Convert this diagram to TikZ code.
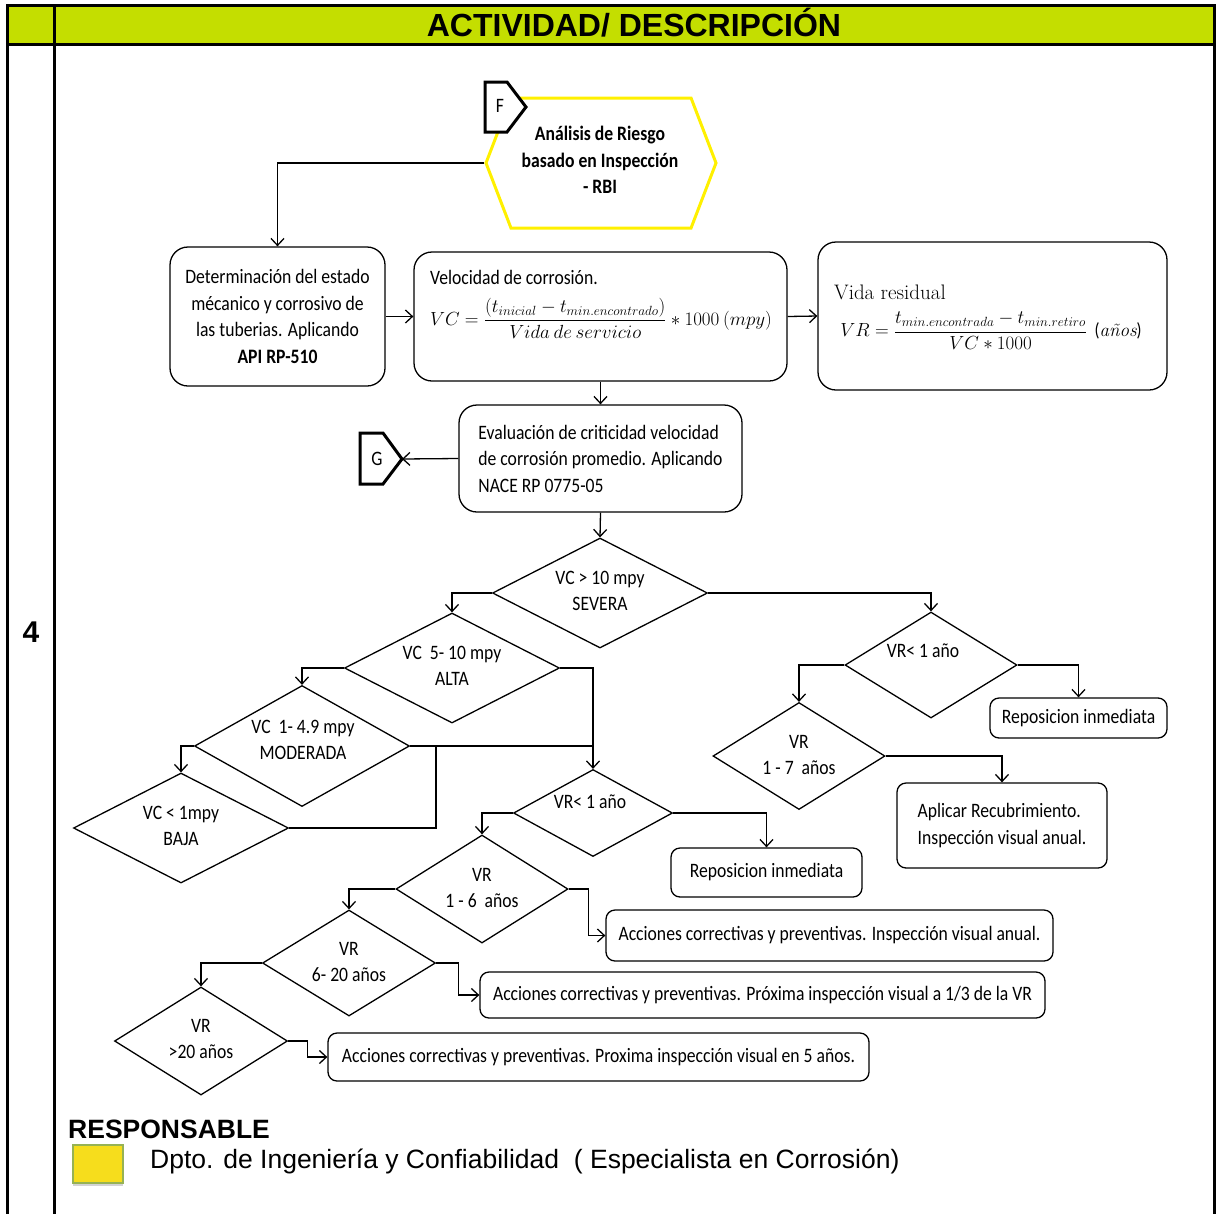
\RequirePackage{fix-cm}
\documentclass[tikz,border=0pt]{standalone}
\usepackage{fontspec}
\setmainfont{Carlito}[FakeStretch=0.86]
\newfontfamily\arial{Liberation Sans}
\newfontfamily\lmserif{Latin Modern Roman}
\usetikzlibrary{arrows.meta,shapes.geometric,shapes.symbols,calc,shadows}

\definecolor{headfill}{RGB}{196,222,0}
\definecolor{hexline}{RGB}{255,240,0}
\definecolor{sqfill}{RGB}{246,221,28}
\definecolor{sqline}{RGB}{150,178,84}

\tikzset{
  tabline/.style={line width=3pt},
  txt/.style={font=\fontsize{20.5}{26.5}\selectfont, inner sep=0pt},
  mth/.style={font=\fontsize{19}{24}\selectfont, inner sep=0pt},
  box/.style={draw, line width=1.3pt, rounded corners=18pt, inner sep=0pt,
              font=\fontsize{20.5}{26.5}\selectfont},
  sbox/.style={box, rounded corners=9pt},
  dia/.style={draw, diamond, aspect=2, line width=1.3pt, inner sep=0pt},
  conn/.style={line width=1.3pt},
  arr/.style={conn, -{Straight Barb[length=7pt,width=13pt,line width=1.3pt]}},
  tagline/.style={draw, line width=3pt, fill=white, line join=miter},
  tagtxt/.style={font=\fontsize{20.5}{24}\selectfont, inner sep=0pt}
}

\begin{document}
\begin{tikzpicture}[x=1pt, y=-1pt]
\useasboundingbox (0,0) rectangle (1217,1213);

% table frame and header row
\fill[headfill] (7,5) rectangle (1214,44);
\draw[tabline] (7,1216) -- (7,5) -- (1214,5) -- (1214,1216);
\draw[tabline] (7,44) -- (1214,44);
\draw[tabline] (54,5) -- (54,1216);
\node[inner sep=0pt, font=\arial\bfseries\fontsize{32}{34}\selectfont] (hdr) at (634,23) {ACTIVIDAD/ DESCRIPCIÓN};
\node[inner sep=0pt, font=\arial\bfseries\fontsize{30}{32}\selectfont] (num) at (31,632) {4};

% start: risk based inspection
\node[draw=hexline, line width=3pt, shape=signal, signal from=nowhere, signal to=west and east,
      signal pointer angle=138, minimum width=230pt, minimum height=130pt, inner sep=0pt] (hex) at (601,163) {};
\node[txt, align=center, font=\bfseries\fontsize{20.5}{26.5}\selectfont] (hexT) at (600,160)
  {Análisis de Riesgo\\basado en Inspección\\- RBI};
% off-page connector F
\draw[tagline] (485,82) -- (507,82) -- (526,107) -- (507,132) -- (485,132) -- cycle;
\node[tagtxt] (F) at (500,106) {F};

% process boxes
\node[box, minimum width=215pt, minimum height=139pt, align=center] (det) at (277.5,316.5)
  {Determinación del estado\\mécanico y corrosivo de\\las tuberias. Aplicando\\\textbf{API RP-510}};
\node[box, minimum width=373pt, minimum height=129pt] (vc) at (600.5,316.5) {};
\node[txt, anchor=west] (vcT) at (430,277) {Velocidad de corrosión.};
\node[mth] (vcF) at (601,318)
  {$\displaystyle VC=\frac{(t_{inicial}-t_{min.encontrado})}{Vida\ de\ servicio}\ast 1000\ (mpy)$};
\node[box, minimum width=349pt, minimum height=148pt] (vr) at (992.5,316) {};
\node[txt, anchor=west, font=\lmserif\fontsize{21}{24}\selectfont] (vrT) at (834,292) {Vida residual};
\node[mth] (vrF) at (991,331)
  {$\displaystyle VR=\frac{t_{min.encontrada}-t_{min.retiro}}{VC\ast 1000}$\ \ ({\lmserif\itshape años})};
\node[box, minimum width=283pt, minimum height=107pt, align=left] (eval) at (600.5,458.5)
  {Evaluación de criticidad velocidad\\de corrosión promedio. Aplicando\\NACE RP 0775-05};
% off-page connector G
\draw[tagline] (360,433) -- (383,433) -- (402,459) -- (383,484) -- (360,484) -- cycle;
\coordinate (Gtip) at (402,459);
\node[tagtxt] (G) at (377,459) {G};

% decision diamonds
\node[dia, minimum width=215pt, minimum height=110pt] (d1) at (600,593) {};
\node[txt, align=center] (d1T) at (600,591) {VC > 10 mpy\\SEVERA};
\node[dia, minimum width=215pt, minimum height=110pt] (d2) at (452,668) {};
\node[txt, align=center] (d2T) at (452,666) {VC\ \ 5- 10 mpy\\ALTA};
\node[dia, minimum width=215pt, minimum height=121pt] (d3) at (302,746) {};
\node[txt, align=center] (d3T) at (303,740) {VC\ \ 1- 4.9 mpy\\MODERADA};
\node[dia, minimum width=215pt, minimum height=110pt] (d4) at (181,828) {};
\node[txt, align=center] (d4T) at (181,826) {VC < 1mpy\\BAJA};
\node[dia, minimum width=159pt, minimum height=87pt] (d5) at (593,813) {};
\node[txt] (d5T) at (590,802) {VR< 1 año};
\node[dia, minimum width=172pt, minimum height=108pt] (d6) at (482,889) {};
\node[txt, align=center] (d6T) at (482,888) {VR\\1 - 6\ \ años};
\node[dia, minimum width=173pt, minimum height=106pt] (d7) at (349,963) {};
\node[txt, align=center] (d7T) at (349,962) {VR\\6- 20 años};
\node[dia, minimum width=173pt, minimum height=108pt] (d9) at (201,1041) {};
\node[txt, align=center] (d9T) at (201,1039) {VR\\>20 años};
\node[dia, minimum width=172pt, minimum height=106pt] (d8) at (931,665) {};
\node[txt] (d8T) at (923,651) {VR< 1 año};
\node[dia, minimum width=172pt, minimum height=107pt] (d10) at (799,756) {};
\node[txt, align=center] (d10T) at (799,755) {VR\\1 - 7\ \ años};

% outcome boxes
\node[sbox, minimum width=177pt, minimum height=40pt] (rep1) at (1078.5,718) {Reposicion inmediata};
\node[sbox, minimum width=210pt, minimum height=85pt, align=left] (apl) at (1002,825.5)
  {Aplicar Recubrimiento.\\Inspección visual anual.};
\node[sbox, minimum width=191pt, minimum height=49pt] (rep2) at (766.5,872.5) {Reposicion inmediata};
\node[sbox, minimum width=447pt, minimum height=51pt] (acc1) at (829.5,935.5)
  {Acciones correctivas y preventivas. Inspección visual anual.};
\node[sbox, minimum width=565pt, minimum height=46pt] (acc2) at (762.5,995)
  {Acciones correctivas y preventivas. Próxima inspección visual a 1/3 de la VR};
\node[sbox, minimum width=541pt, minimum height=48pt] (acc3) at (598.5,1057)
  {Acciones correctivas y preventivas. Proxima inspección visual en 5 años.};

% connectors
\draw[arr] (hex.west) -| (det.north);
\draw[arr] (det.east) -- (vc.west);
\draw[arr] (vc.east) -- (vr.west);
\draw[arr] (vc.south) -- (eval.north);
\draw[arr] (eval.west) -- (Gtip);
\draw[arr] (eval.south) -- (d1.north);
\draw[arr] (d1.west) -| (d2.north);
\draw[arr] (d1.east) -| (d8.north);
\draw[arr] (d2.west) -| (d3.north);
\draw[arr] (d2.east) -| (d5.north);
\draw[arr] (d3.west) -| (d4.north);
\draw[conn] (d3.east) -- (d3.east -| d5.north);
\coordinate (j1) at (436,746);
\draw[conn] (d4.east) -| (j1);
\draw[arr] (d5.west) -| (d6.north);
\draw[arr] (d5.east) -| (rep2.north);
\draw[arr] (d6.west) -| (d7.north);
\draw[arr] (d6.east) -- ++(20,0) |- (acc1.west);
\draw[arr] (d7.west) -| (d9.north);
\draw[arr] (d7.east) -- ++(22,0) |- (acc2.west);
\draw[arr] (d9.east) -- ++(19,0) |- (acc3.west);
\draw[arr] (d8.west) -| (d10.north);
\draw[arr] (d8.east) -| (rep1.north);
\draw[arr] (d10.east) -| (apl.north);

% responsible
\node[anchor=west, inner sep=0pt, font=\arial\bfseries\fontsize{26.5}{30}\selectfont] (resp) at (68,1129) {RESPONSABLE};
\node[fill=sqfill, draw=sqline, line width=1.5pt, minimum width=50pt, minimum height=38pt, inner sep=0pt,
      drop shadow={shadow xshift=0pt, shadow yshift=-3pt, opacity=0.35}] (sq) at (98,1164) {};
\node[anchor=west, inner sep=0pt, font=\arial\fontsize{26.5}{30}\selectfont] (dept) at (150,1161)
  {Dpto. de Ingeniería y Confiabilidad\ \ ( Especialista en Corrosión)};
\end{tikzpicture}
\end{document}
